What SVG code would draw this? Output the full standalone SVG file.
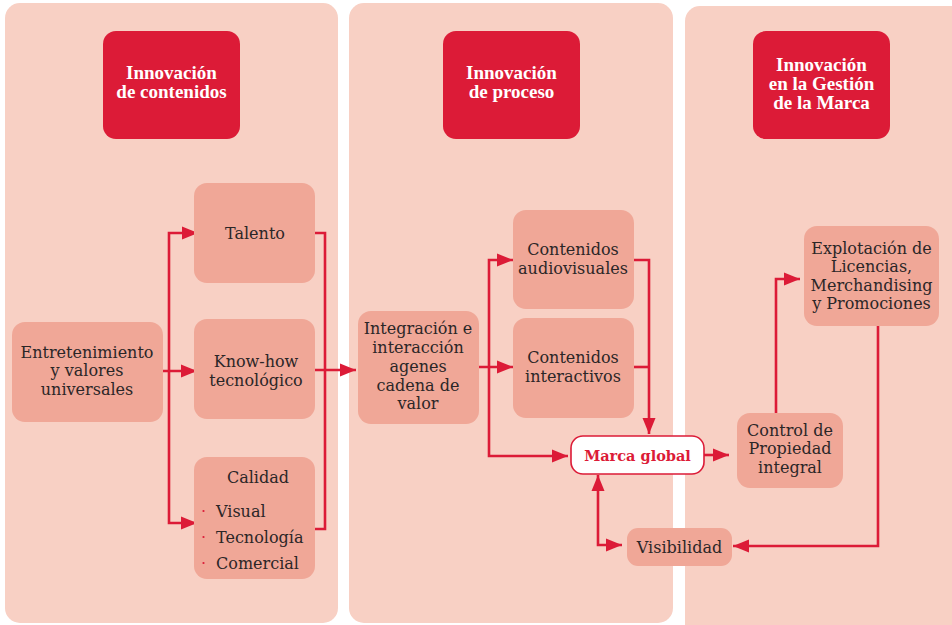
<svg xmlns="http://www.w3.org/2000/svg" width="952" height="625" viewBox="0 0 952 625">
  <style>
    .panel { fill: #F8D0C4; }
    .head { fill: #DC1B37; }
    .head-t { font-family: "Liberation Serif", "DejaVu Serif", serif; font-weight: bold; font-size: 19px; fill: #ffffff; text-anchor: middle; }
    .node { fill: #F0A797; }
    .t { font-family: "DejaVu Serif", "Liberation Serif", serif; font-size: 16px; fill: #2b2627; text-anchor: middle; }
    .tl { font-family: "DejaVu Serif", "Liberation Serif", serif; font-size: 16px; fill: #2b2627; }
    .brand { fill: #ffffff; stroke: #DC1B37; stroke-width: 1.6; }
    .brand-t { font-family: "DejaVu Serif", "Liberation Serif", serif; font-weight: bold; font-size: 14.5px; fill: #DC1B37; text-anchor: middle; }
    .bullet { fill: #DC1B37; }
    .link { fill: none; stroke: #DC1B37; stroke-width: 2.6; stroke-linejoin: miter; }
  </style>
  <defs>
    <marker id="arrow" markerUnits="userSpaceOnUse" markerWidth="17" markerHeight="14" refX="16" refY="7" orient="auto-start-reverse">
      <path d="M0,0.5 L16,7 L0,13.5 z" fill="#DC1B37"/>
    </marker>
  </defs>

  <rect width="952" height="625" fill="#ffffff"/>

  <!-- column backgrounds -->
  <g id="panels">
    <rect class="panel" x="5" y="3" width="333" height="620" rx="15"/>
    <rect class="panel" x="349" y="3" width="324" height="620" rx="15"/>
    <rect class="panel" x="685" y="6" width="285" height="640" rx="15"/>
  </g>

  <!-- column headings -->
  <g id="head-contenidos">
    <rect class="head" x="103" y="31" width="137" height="108" rx="13"/>
    <text class="head-t" x="171.5" y="79">Innovación</text>
    <text class="head-t" x="171.5" y="98">de contenidos</text>
  </g>
  <g id="head-proceso">
    <rect class="head" x="443" y="31" width="137" height="108" rx="13"/>
    <text class="head-t" x="511.5" y="79">Innovación</text>
    <text class="head-t" x="511.5" y="98">de proceso</text>
  </g>
  <g id="head-marca">
    <rect class="head" x="753" y="31" width="137" height="108" rx="13"/>
    <text class="head-t" x="821.5" y="71">Innovación</text>
    <text class="head-t" x="821.5" y="90">en la Gestión</text>
    <text class="head-t" x="821.5" y="109">de la Marca</text>
  </g>

  <!-- connectors -->
  <g id="connectors">
    <path class="link" d="M163,371 H197" marker-end="url(#arrow)"/>
    <path class="link" d="M169,371 V233 H198" marker-end="url(#arrow)"/>
    <path class="link" d="M169,371 V523 H197" marker-end="url(#arrow)"/>
    <path class="link" d="M315,233 H325 V529 H315"/>
    <path class="link" d="M315,370 H356" marker-end="url(#arrow)"/>
    <path class="link" d="M479,367 H513" marker-end="url(#arrow)"/>
    <path class="link" d="M489,367 V260 H513" marker-end="url(#arrow)"/>
    <path class="link" d="M489,367 V456 H568" marker-end="url(#arrow)"/>
    <path class="link" d="M634,260 H649 V434" marker-end="url(#arrow)"/>
    <path class="link" d="M634,367 H649"/>
    <path class="link" d="M704,455 H729" marker-end="url(#arrow)"/>
    <path class="link" d="M776,413 V279 H800" marker-end="url(#arrow)"/>
    <path class="link" d="M878,326 V546 H733" marker-end="url(#arrow)"/>
    <path class="link" d="M598,475 V545 H622" marker-start="url(#arrow)" marker-end="url(#arrow)"/>
  </g>

  <!-- content innovation -->
  <g id="entretenimiento">
    <rect class="node" x="12" y="322" width="151" height="100" rx="13"/>
    <text class="t" x="87" y="358">Entretenimiento</text>
    <text class="t" x="87" y="376">y valores</text>
    <text class="t" x="87" y="395">universales</text>
  </g>
  <g id="talento">
    <rect class="node" x="194" y="183" width="121" height="100" rx="13"/>
    <text class="t" x="255" y="239">Talento</text>
  </g>
  <g id="knowhow">
    <rect class="node" x="194" y="319" width="121" height="100" rx="13"/>
    <text class="t" x="256" y="367">Know-how</text>
    <text class="t" x="256" y="386">tecnológico</text>
  </g>
  <g id="calidad">
    <rect class="node" x="194" y="457" width="121" height="122" rx="13"/>
    <text class="t" x="258" y="483">Calidad</text>
    <circle class="bullet" cx="203.5" cy="511" r="1.1"/>
    <circle class="bullet" cx="203.5" cy="537" r="1.1"/>
    <circle class="bullet" cx="203.5" cy="563" r="1.1"/>
    <text class="tl" x="216" y="517">Visual</text>
    <text class="tl" x="216" y="543">Tecnología</text>
    <text class="tl" x="216" y="569">Comercial</text>
  </g>

  <!-- process innovation -->
  <g id="integracion">
    <rect class="node" x="358" y="311" width="121" height="113" rx="13"/>
    <text class="t" x="418" y="334">Integración e</text>
    <text class="t" x="418" y="353">interacción</text>
    <text class="t" x="418" y="372">agenes</text>
    <text class="t" x="418" y="391">cadena de</text>
    <text class="t" x="418" y="409">valor</text>
  </g>
  <g id="audiovisuales">
    <rect class="node" x="513" y="210" width="121" height="99" rx="13"/>
    <text class="t" x="573" y="255">Contenidos</text>
    <text class="t" x="573" y="274">audiovisuales</text>
  </g>
  <g id="interactivos">
    <rect class="node" x="513" y="318" width="121" height="100" rx="13"/>
    <text class="t" x="573" y="363">Contenidos</text>
    <text class="t" x="573" y="382">interactivos</text>
  </g>
  <g id="marca-global">
    <rect class="brand" x="571" y="436" width="133" height="38" rx="12"/>
    <text class="brand-t" x="637.5" y="460.5">Marca global</text>
  </g>
  <g id="visibilidad">
    <rect class="node" x="627" y="528" width="105" height="38" rx="11"/>
    <text class="t" x="679.5" y="553">Visibilidad</text>
  </g>

  <!-- brand management innovation -->
  <g id="control">
    <rect class="node" x="737" y="413" width="106" height="75" rx="13"/>
    <text class="t" x="790" y="436">Control de</text>
    <text class="t" x="790" y="454">Propiedad</text>
    <text class="t" x="790" y="473">integral</text>
  </g>
  <g id="explotacion">
    <rect class="node" x="804" y="226" width="135" height="100" rx="13"/>
    <text class="t" x="871.5" y="254">Explotación de</text>
    <text class="t" x="871.5" y="272">Licencias,</text>
    <text class="t" x="871.5" y="291">Merchandising</text>
    <text class="t" x="871.5" y="309">y Promociones</text>
  </g>
</svg>
